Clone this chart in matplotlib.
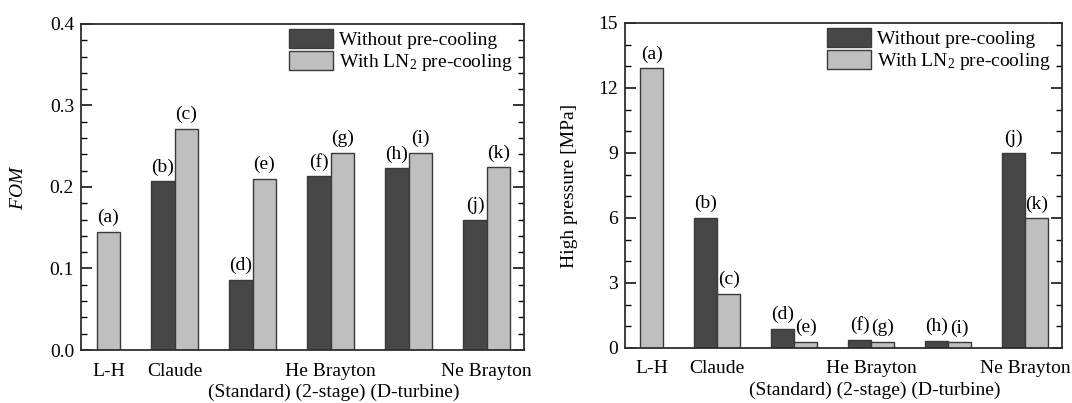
import numpy as np
import matplotlib
matplotlib.use("Agg")
import matplotlib.pyplot as plt

plt.rcParams['font.family'] = ['Liberation Serif', 'DejaVu Serif']
plt.rcParams['mathtext.fontset'] = 'custom'
plt.rcParams['mathtext.rm'] = 'Liberation Serif'
plt.rcParams['mathtext.it'] = 'Liberation Serif:italic'

# cycles (groups), left to right
groups = ['L-H', 'Claude', 'Standard', '2-stage', 'D-turbine', 'Ne Brayton']
xtick_labels = ['L-H', 'Claude', 'He Brayton', 'Ne Brayton']
xtick_groups = [0, 1, 3, 5]
sub_label = '(Standard) (2-stage) (D-turbine)'

# FOM values
fom_without = [np.nan, 0.207, 0.086, 0.213, 0.223, 0.160]
fom_with = [0.145, 0.271, 0.210, 0.242, 0.242, 0.224]

# high pressure [MPa]
hp_without = [np.nan, 6.0, 0.89, 0.37, 0.34, 9.0]
hp_with = [12.9, 2.49, 0.29, 0.28, 0.26, 5.98]

letters_without = [None, '(b)', '(d)', '(f)', '(h)', '(j)']
letters_with = ['(a)', '(c)', '(e)', '(g)', '(i)', '(k)']

dark = '#474747'
light = '#bfbfbf'
edge = '#3a3a3a'
w = 0.30
fs = 14

fig = plt.figure(figsize=(10.72, 4.03), dpi=100)
ax1 = fig.add_axes([0.0756, 0.1315, 0.4133, 0.809])
ax2 = fig.add_axes([0.583, 0.1365, 0.4077, 0.8065])


def draw(ax, without, with_, ylim, yticks, minor_step, ylabel, lab_off, label_x):
    x = np.arange(len(groups))
    wo = np.array(without, dtype=float)
    wi = np.array(with_, dtype=float)
    m = ~np.isnan(wo)
    ax.bar(x[m] - w / 2, wo[m], w, color=dark, edgecolor=edge, lw=1.0,
           label='Without pre-cooling')
    xw = x + w / 2
    ax.bar(xw, wi, w, color=light, edgecolor=edge, lw=1.0,
           label='With LN$_2$ pre-cooling')
    for i in range(len(groups)):
        if letters_without[i] and m[i]:
            ax.text(x[i] - w / 2, wo[i] + lab_off, letters_without[i],
                    ha='center', va='bottom', fontsize=fs)
        ax.text(xw[i], wi[i] + lab_off, letters_with[i],
                ha='center', va='bottom', fontsize=fs)

    ax.set_xlim(-0.2, 5.48)
    ax.set_ylim(*ylim)
    ax.set_yticks(yticks)
    ax.set_yticks(np.arange(ylim[0], ylim[1] + 1e-9, minor_step), minor=True)
    tick_x = [g + (w / 2 if g == 0 else 0) for g in xtick_groups]
    ax.set_xticks(tick_x)
    ax.set_xticklabels(xtick_labels, fontsize=fs)
    ax.tick_params(axis='x', length=0, pad=9)
    ax.tick_params(axis='y', which='both', direction='in', right=True, labelsize=fs)
    ax.tick_params(axis='y', which='major', length=8, width=1.1, pad=5)
    ax.tick_params(axis='y', which='minor', length=4, width=1.0)
    ax.text(3.04, -0.129, sub_label, transform=ax.get_xaxis_transform(),
            ha='center', va='center', fontsize=fs, clip_on=False)
    ax.set_ylabel(ylabel, fontsize=fs)
    ax.yaxis.set_label_coords(label_x, 0.5)
    for s in ax.spines.values():
        s.set_color('#2e2e2e')
        s.set_linewidth(1.3)
    ax.legend(loc='upper right', bbox_to_anchor=(1.0, 1.02), frameon=False,
              fontsize=fs, handlelength=2.27, handleheight=1.1,
              handletextpad=0.3, labelspacing=0.1, borderaxespad=0.2)


draw(ax1, fom_without, fom_with, (0, 0.4), [0.0, 0.1, 0.2, 0.3, 0.4], 0.02,
     '$\\it{FOM}$', 0.007, -0.122)
ax1.set_yticklabels(['0.0', '0.1', '0.2', '0.3', '0.4'])
draw(ax2, hp_without, hp_with, (0, 15), [0, 3, 6, 9, 12, 15], 1,
     'High pressure [MPa]', 0.26, -0.1075)

fig.savefig('out.png', dpi=100)
